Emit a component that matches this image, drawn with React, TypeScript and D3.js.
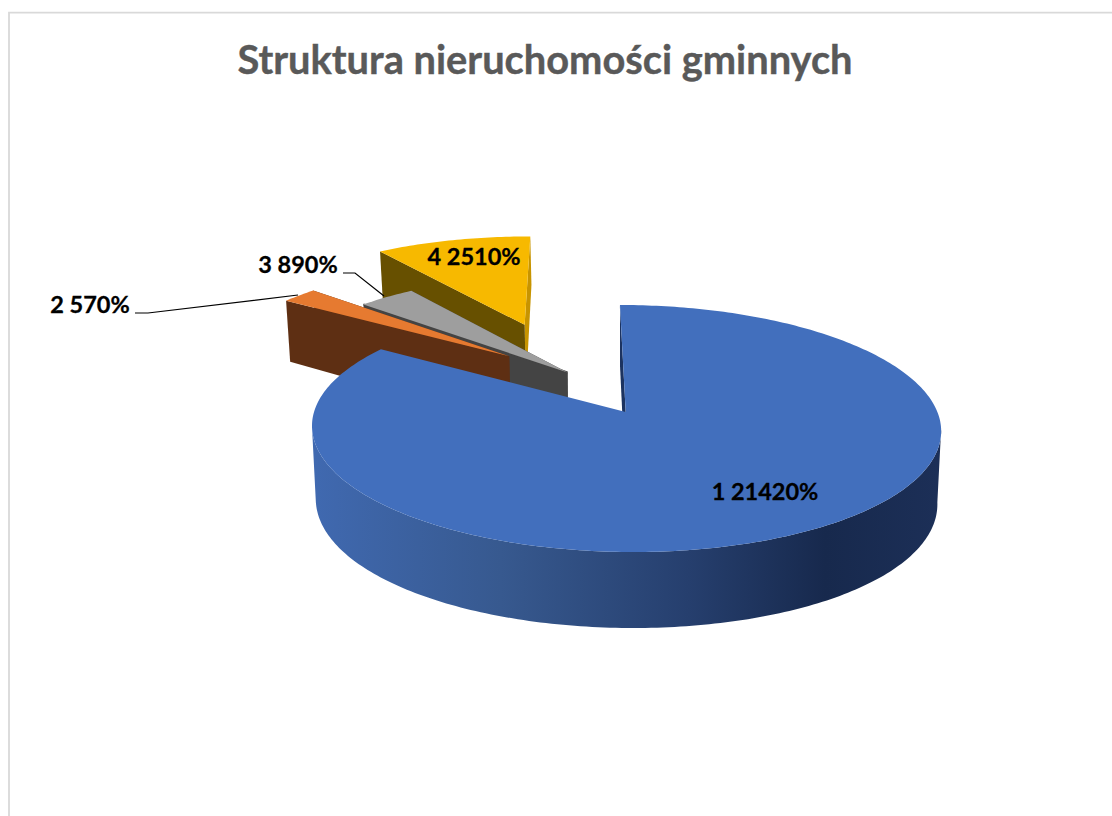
import React from 'react';
import * as d3 from 'd3';

// Chart data
const title = 'Struktura nieruchomości gminnych';
const categories = ['1', '2', '3', '4'];
const values = [21420, 570, 890, 2510];

// Colours per slice: top face, cut face (start edge), cut face (end edge)
const topColors = ['#426fbd', '#e67a30', '#9e9e9e', '#f7b900'];
const startFaceColors = ['#1c3360', '#5e2f13', '#444444', '#675000'];
const endFaceColors = ['#1c3360', '#5e2f13', '#444444', '#c79400'];

// How far each slice is pulled out, in units of the pie radius
const explodeX = [0, -0.388, -0.188, -0.342];
const explodeY = [0, -0.49, -0.34, -0.795];

const width = 1112;
const height = 816;

// Projection of the pie plane onto the page
const cx = 625.7;
const cy = 412;
const radiusX = 311.7;
const radiusY = 121.3;
const persp = 0.1336;
const skew = 6.5;
const bottomShrink = 0.988;

type Pt = [number, number];

// Wall height shrinks towards the back of the pie
function wallHeight(Y: number) {
  return 72.1 + 7.2 * Y - 3.3 * Y * Y;
}

function project(X: number, Y: number, lower = false): Pt {
  const p = 1 / (1 - persp * Y);
  const x = cx + p * (X * radiusX + skew * Y);
  const y = cy + p * Y * radiusY;
  if (!lower) return [x, y];
  return [cx + (x - cx) * bottomShrink, y + wallHeight(Y)];
}

const pie = d3
  .pie<number>()
  .sort(null)
  .startAngle(0)
  .endAngle(Math.PI * 2);
const arcs = pie(values);

const path = d3.line<Pt>();

function arcAngles(i: number): number[] {
  const a = arcs[i];
  const steps = Math.max(2, Math.ceil((a.endAngle - a.startAngle) * 60));
  return d3.range(steps + 1).map((s) => a.startAngle + ((a.endAngle - a.startAngle) * s) / steps);
}

function onRim(i: number, t: number, lower = false): Pt {
  return project(Math.sin(t) + explodeX[i], -Math.cos(t) + explodeY[i], lower);
}

function arcPoints(i: number, lower = false): Pt[] {
  return arcAngles(i).map((t) => onRim(i, t, lower));
}

function apex(i: number, lower = false): Pt {
  return project(explodeX[i], explodeY[i], lower);
}

function topFace(i: number) {
  return path([apex(i), ...arcPoints(i)]) + 'Z';
}

// Only the part of the rim that faces the viewer gets a wall
function frontWall(i: number) {
  const front = arcAngles(i).filter((t) => -Math.cos(t) + explodeY[i] >= persp);
  if (front.length < 2) return '';
  const upper = front.map((t) => onRim(i, t));
  const lower = front.map((t) => onRim(i, t, true)).reverse();
  return path([...upper, ...lower]) + 'Z';
}

function cutFace(i: number, end: boolean) {
  const top = arcPoints(i);
  const low = arcPoints(i, true);
  const k = end ? top.length - 1 : 0;
  return path([apex(i), top[k], low[k], apex(i, true)]) + 'Z';
}

// Grey slice's thin dark rim along its start edge
function rimLine(i: number) {
  return path([arcPoints(i)[0], apex(i)]) ?? '';
}

function SliceWalls({ i }: { i: number }) {
  return (
    <g>
      <path d={cutFace(i, true)} fill={endFaceColors[i]} />
      <path d={cutFace(i, false)} fill={startFaceColors[i]} />
    </g>
  );
}

const leader2: Pt[] = [
  [135, 313],
  [148, 313],
  [298, 295],
];
const leader3: Pt[] = [
  [343, 273],
  [355, 273],
  [384, 296],
];

const labelStyle: React.CSSProperties = {
  fontFamily: 'Lato, sans-serif',
  fontWeight: 700,
  fontSize: 23.5,
  fill: '#000',
  stroke: '#000',
  strokeWidth: 0.3,
};

export default function App() {
  const label = (i: number) => `${categories[i]} ${values[i]}%`;

  return (
    <svg
      width={width}
      height={height}
      viewBox={`0 0 ${width} ${height}`}
      style={{ position: 'absolute', left: 0, top: 0, background: '#fff' }}
    >
      <defs>
        <linearGradient
          id="blue-side"
          gradientUnits="userSpaceOnUse"
          x1={cx - radiusX}
          x2={cx + radiusX}
          y1={0}
          y2={0}
        >
          <stop offset="0%" stopColor="#4069b0" />
          <stop offset="30%" stopColor="#37598f" />
          <stop offset="60%" stopColor="#263f6e" />
          <stop offset="82%" stopColor="#17294d" />
          <stop offset="100%" stopColor="#1c2f57" />
        </linearGradient>
      </defs>

      {/* chart frame */}
      <path d="M9,816V12.7H1112" fill="none" stroke="#d9d9d9" strokeWidth={1.8} />

      <text
        x={545}
        y={74}
        textAnchor="middle"
        style={{
          fontFamily: 'Lato, sans-serif',
          fontWeight: 700,
          fontSize: 39.8,
          fill: '#595959',
          stroke: '#595959',
          strokeWidth: 0.4,
        }}
      >
        {title}
      </text>

      {/* painted back to front */}
      <SliceWalls i={3} />
      <path d={topFace(3)} fill={topColors[3]} />

      <SliceWalls i={2} />
      <SliceWalls i={1} />
      <path d={topFace(1)} fill={topColors[1]} />
      <path d={rimLine(2)} stroke={startFaceColors[2]} strokeWidth={2} fill="none" />
      <path d={topFace(2)} fill={topColors[2]} />

      <path d={frontWall(0)} fill="url(#blue-side)" />
      <path d={cutFace(0, false)} fill={startFaceColors[0]} />
      <path d={topFace(0)} fill={topColors[0]} />

      <path d={path(leader2) ?? ''} fill="none" stroke="#000" strokeWidth={1.2} />
      <path d={path(leader3) ?? ''} fill="none" stroke="#000" strokeWidth={1.2} />

      <text x={765} y={500} textAnchor="middle" style={labelStyle}>{label(0)}</text>
      <text x={90} y={313} textAnchor="middle" style={labelStyle}>{label(1)}</text>
      <text x={298} y={273} textAnchor="middle" style={labelStyle}>{label(2)}</text>
      <text x={474} y={265} textAnchor="middle" style={labelStyle}>{label(3)}</text>
    </svg>
  );
}
